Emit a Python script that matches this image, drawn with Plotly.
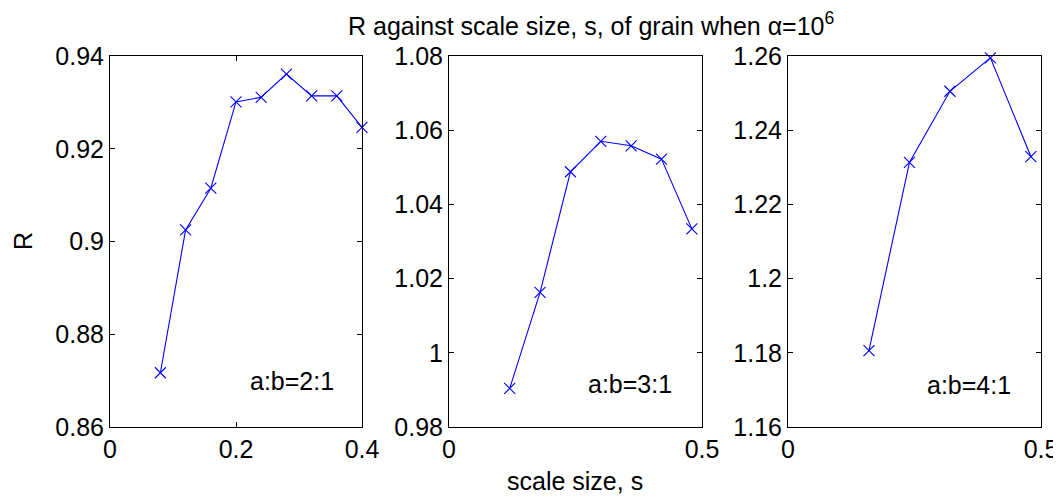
import plotly.graph_objects as go

s1 = [0.08, 0.12, 0.16, 0.20, 0.24, 0.28, 0.32, 0.36, 0.40]
r1 = [0.8717, 0.9025, 0.9115, 0.9301, 0.9311, 0.9361, 0.9314, 0.9314, 0.9246]
s2 = [0.12, 0.18, 0.24, 0.30, 0.36, 0.42, 0.48]
r2 = [0.9904, 1.0163, 1.0488, 1.0570, 1.0558, 1.0522, 1.0334]
s3 = [0.16, 0.24, 0.32, 0.40, 0.48]
r3 = [1.1806, 1.2313, 1.2505, 1.2595, 1.2329]
labels = ["a:b=2:1", "a:b=3:1", "a:b=4:1"]

W, H = 1061, 498
OFF = 8  # page body margin offset
FONT = "Liberation Sans, Arial, sans-serif"
BLUE = "#0000ff"

def px(x):
    return (x - OFF) / W

def py(y):
    return 1 - (y - OFF) / H

ydom = [py(427), py(56)]
xdoms = [[px(110), px(362)], [px(449), px(702)], [px(788), px(1041)]]
xranges = [[0, 0.4], [0, 0.5], [0, 0.5]]
xticks = [[0, 0.2, 0.4], [0, 0.5], [0, 0.5]]
yranges = [[0.86, 0.94], [0.98, 1.08], [1.16, 1.26]]

fig = go.Figure()
data = [(s1, r1), (s2, r2), (s3, r3)]
for i, (xs, ys) in enumerate(data):
    suf = "" if i == 0 else str(i + 1)
    fig.add_trace(go.Scatter(
        x=xs, y=ys, mode="lines+markers",
        line=dict(color=BLUE, width=1.1),
        marker=dict(symbol="x-thin", size=11, color=BLUE,
                    line=dict(color=BLUE, width=1.1)),
        xaxis="x" + suf, yaxis="y" + suf, showlegend=False,
        cliponaxis=False,
    ))
    axcommon = dict(showgrid=False, zeroline=False, showline=True,
                    linecolor="black", linewidth=1, mirror="allticks",
                    ticks="inside", ticklen=5, tickcolor="black",
                    automargin=False,
                    tickfont=dict(family=FONT, size=25, color="black"))
    fig.layout["xaxis" + suf] = dict(domain=xdoms[i], range=xranges[i],
                                     tickvals=xticks[i], anchor="y" + suf,
                                     **axcommon)
    fig.layout["yaxis" + suf] = dict(domain=ydom, range=yranges[i],
                                     dtick=0.02, tick0=yranges[i][0],
                                     anchor="x" + suf, **axcommon)

ann_pos = [(0.289, 0.8699), (0.358, 0.9916), (0.357, 1.1713)]
for i, (ax, ay) in enumerate(ann_pos):
    suf = "" if i == 0 else str(i + 1)
    fig.add_annotation(x=ax, y=ay, xref="x" + suf, yref="y" + suf,
                       text=labels[i], showarrow=False,
                       xanchor="center", yanchor="middle",
                       font=dict(family=FONT, size=25, color="black"))

fig.add_annotation(x=px(591), y=py(24), xref="paper", yref="paper",
                   xanchor="center", yanchor="middle",
                   text="R against scale size, s, of grain when \u03b1=10<sup>6</sup>",
                   showarrow=False, font=dict(family=FONT, size=25, color="black"))
fig.add_annotation(x=px(575), y=py(481), xref="paper", yref="paper",
                   xanchor="center", yanchor="middle",
                   text="scale size, s", showarrow=False,
                   font=dict(family=FONT, size=25, color="black"))
fig.add_annotation(x=px(23), y=py(241), xref="paper", yref="paper",
                   xanchor="center", yanchor="middle",
                   text="R", showarrow=False, textangle=-90,
                   font=dict(family=FONT, size=25, color="black"))

fig.update_layout(width=W, height=H, margin=dict(l=0, r=0, t=0, b=0, pad=0),
                  paper_bgcolor="white", plot_bgcolor="white",
                  font=dict(family=FONT))
fig.write_html("out.html")
